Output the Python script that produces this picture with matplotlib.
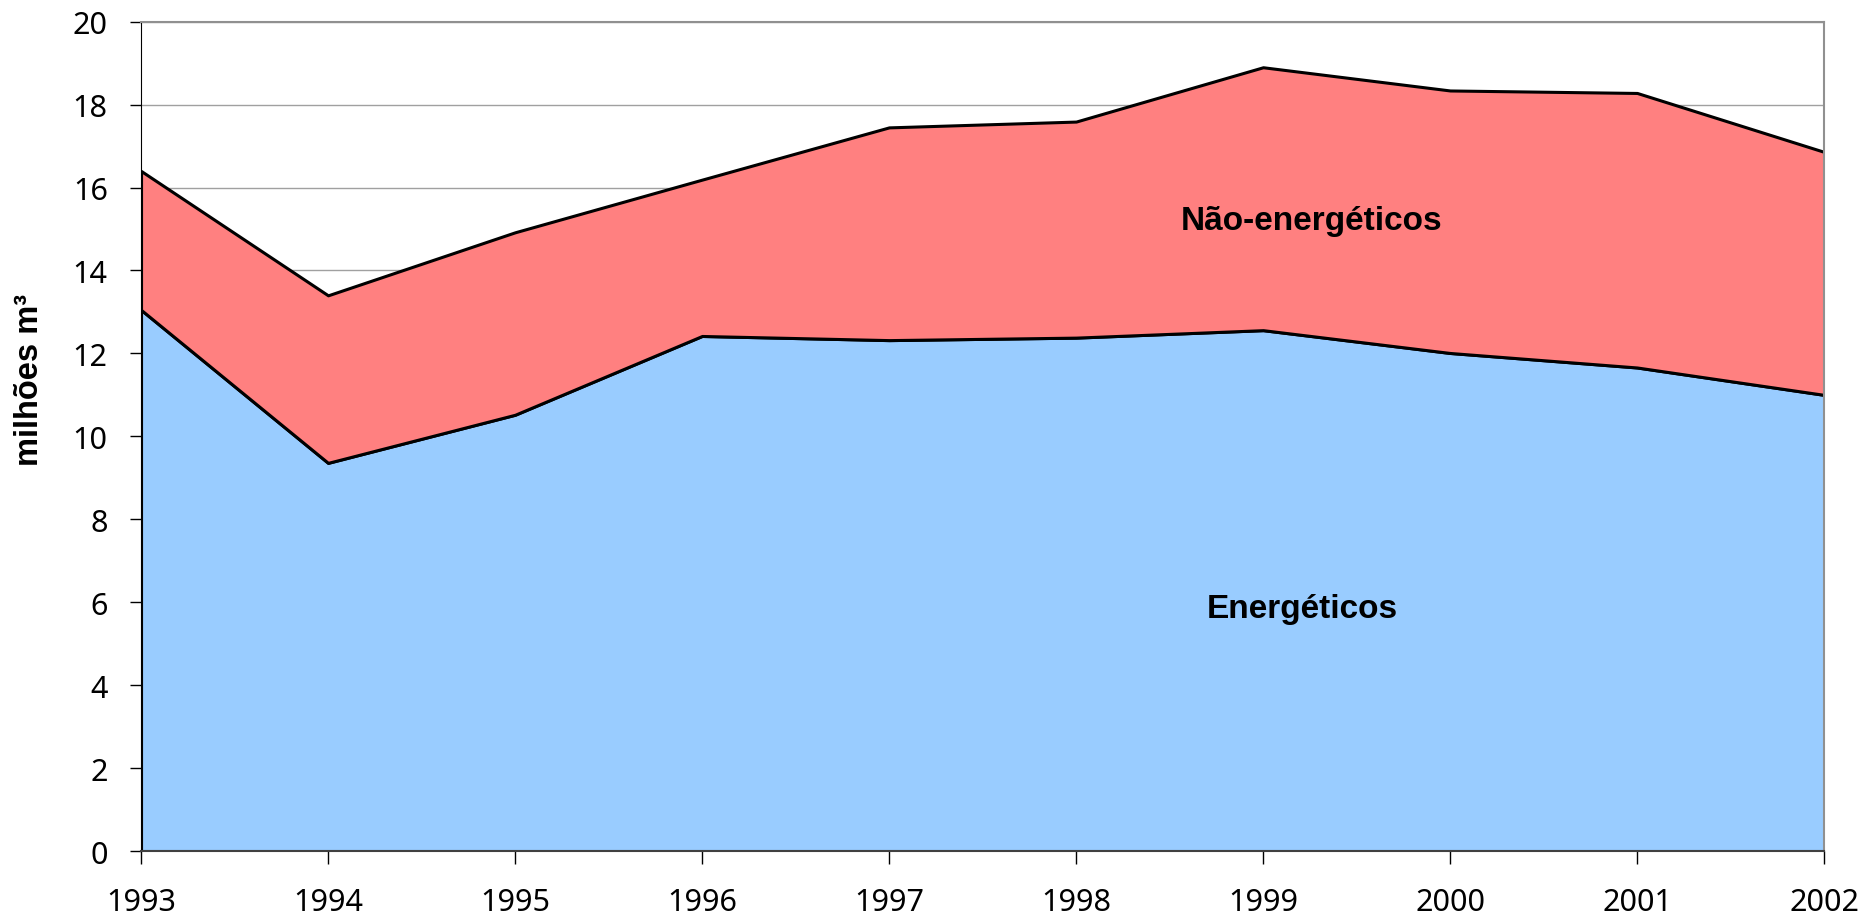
import matplotlib
matplotlib.use('Agg')
import matplotlib.pyplot as plt

# anos e valores (milhões m3)
anos = [1993, 1994, 1995, 1996, 1997, 1998, 1999, 2000, 2001, 2002]
energeticos = [13.05, 9.36, 10.52, 12.42, 12.32, 12.38, 12.56, 12.01, 11.66, 11.00]
total = [16.40, 13.40, 14.92, 16.19, 17.45, 17.59, 18.90, 18.34, 18.28, 16.86]
nao_energeticos = [t - e for t, e in zip(total, energeticos)]

plt.rcParams['font.family'] = ['Noto Sans', 'DejaVu Sans']
bold_font = ['Liberation Sans', 'DejaVu Sans']

fig = plt.figure(figsize=(18.63, 9.2), dpi=100, facecolor='w')
ax = fig.add_axes([0.0757, 0.0739, 0.9034, 0.9015])

ax.stackplot(anos, energeticos, nao_energeticos,
             colors=['#99CCFF', '#FF8080'], edgecolor='black', linewidth=2.2,
             zorder=2)

ax.set_xlim(1993, 2002)
ax.set_ylim(0, 20)
ax.set_xticks(anos)
ax.set_yticks(range(0, 21, 2))
ax.grid(axis='y', color='#A0A0A0', linewidth=1, zorder=0)
ax.set_axisbelow(True)

ax.tick_params(axis='x', direction='out', length=9, width=1, pad=17, labelsize=22)
ax.tick_params(axis='y', direction='out', length=8, width=1, pad=16, labelsize=22)

for s in ['top', 'right']:
    ax.spines[s].set_color('#909090')
    ax.spines[s].set_linewidth(1.5)
ax.spines['left'].set_color('black')
ax.spines['bottom'].set_color('#404040')
ax.spines['bottom'].set_linewidth(1.5)

ax.set_ylabel('milhões m³', fontsize=23.5, fontweight='bold', family=bold_font)
ax.yaxis.set_label_coords(-0.057, 0.569)

ax.text(1999.26, 15.2, 'Não-energéticos', fontsize=24, fontweight='bold',
        family=bold_font, ha='center', va='center', zorder=3)
ax.text(1999.21, 5.85, 'Energéticos', fontsize=24, fontweight='bold',
        family=bold_font, ha='center', va='center', zorder=3)

fig.savefig('out.png', dpi=100)
